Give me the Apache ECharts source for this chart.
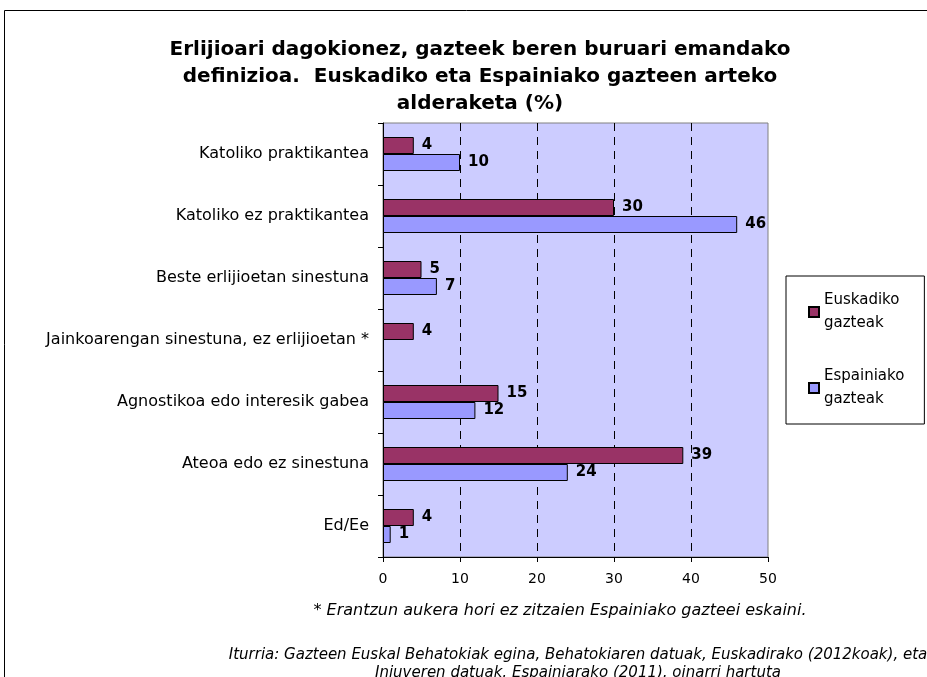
<!DOCTYPE html>
<html>
<head>
<meta charset="utf-8">
<script src="https://cdn.jsdelivr.net/npm/echarts@6/dist/echarts.min.js"></script>
<style>
  html, body { margin: 0; padding: 0; background: #fff; }
  #chart { width: 927px; height: 677px; }
</style>
</head>
<body>
<div id="chart"></div>
<script>
// categories, top to bottom
const categories = [
    'Katoliko praktikantea',
    'Katoliko ez praktikantea',
    'Beste erlijioetan sinestuna',
    'Jainkoarengan sinestuna, ez erlijioetan *',
    'Agnostikoa edo interesik gabea',
    'Ateoa edo ez sinestuna',
    'Ed/Ee'
];
const euskadiko = [4, 30, 5, 4, 15, 39, 4];
const espainiako = [10, 46, 7, null, 12, 24, 1];
const xTicks = [0, 10, 20, 30, 40, 50];

const fontFam = '"DejaVu Sans", Verdana, sans-serif';

const chart = echarts.init(document.getElementById('chart'));

const labelStyle = {
    show: true,
    position: 'right',
    distance: 8,
    color: '#000',
    fontWeight: 'bold',
    fontSize: 15,
    fontFamily: fontFam
};

let option = {
    backgroundColor: '#fff',
    animation: false,
    title: {
        text: 'Erlijioari dagokionez, gazteek beren buruari emandako\ndefinizioa.  Euskadiko eta Espainiako gazteen arteko\nalderaketa (%)',
        left: 475,
        top: 31,
        textAlign: 'center',
        textStyle: {
            fontFamily: fontFam,
            fontWeight: 'bold',
            fontSize: 20,
            lineHeight: 27,
            color: '#000'
        }
    },
    legend: {
        orient: 'vertical',
        left: 786,
        top: 276,
        width: 137,
        padding: [13, 20, 13, 22],
        itemGap: 30,
        itemWidth: 10,
        itemHeight: 10,
        borderColor: '#000',
        borderWidth: 1,
        icon: 'rect',
        formatter: name => name.replace(' ', '\n'),
        textStyle: {
            fontFamily: fontFam,
            fontSize: 15,
            lineHeight: 23,
            color: '#000'
        }
    },
    grid: {
        left: 383,
        right: 159,
        top: 123,
        bottom: 120,
        show: true,
        backgroundColor: '#CCCCFF',
        borderColor: '#808080',
        borderWidth: 1
    },
    xAxis: {
        type: 'value',
        min: 0,
        max: 50,
        interval: 10,
        axisLine: { show: true, lineStyle: { color: '#000' } },
        axisTick: { show: true, length: 5, lineStyle: { color: '#000' } },
        axisLabel: {
            color: '#000',
            fontSize: 14,
            fontFamily: fontFam,
            margin: 15,
            formatter: v => xTicks.includes(v) ? String(v) : ''
        },
        splitLine: {
            show: true,
            showMinLine: false,
            showMaxLine: false,
            lineStyle: { color: '#000', type: [8, 6], width: 1 }
        }
    },
    yAxis: {
        type: 'category',
        inverse: true,
        data: categories,
        axisLine: { show: true, lineStyle: { color: '#000' } },
        axisTick: { show: true, inside: false, length: 5, lineStyle: { color: '#000' } },
        axisLabel: {
            color: '#000',
            fontSize: 16,
            fontFamily: fontFam,
            margin: 14
        }
    },
    series: [
        {
            name: 'Euskadiko gazteak',
            type: 'bar',
            data: euskadiko,
            barWidth: 17,
            barGap: '0%',
            itemStyle: { color: '#993366', borderColor: '#000', borderWidth: 1 },
            label: labelStyle
        },
        {
            name: 'Espainiako gazteak',
            type: 'bar',
            data: espainiako,
            barWidth: 17,
            barGap: '0%',
            itemStyle: { color: '#9999FF', borderColor: '#000', borderWidth: 1 },
            label: labelStyle
        }
    ],
    graphic: [
        {
            type: 'rect',
            shape: { x: 4.5, y: 10.5, width: 940, height: 700 },
            style: { fill: null, stroke: '#000', lineWidth: 1 },
            silent: true,
            z: -1
        },
        {
            type: 'text',
            x: 560,
            y: 611,
            style: {
                text: '* Erantzun aukera hori ez zitzaien Espainiako gazteei eskaini.',
                fontFamily: fontFam,
                fontStyle: 'italic',
                fontSize: 16,
                fill: '#000',
                textAlign: 'center',
                textVerticalAlign: 'middle'
            }
        },
        {
            type: 'text',
            x: 578,
            y: 646,
            style: {
                text: 'Iturria: Gazteen Euskal Behatokiak egina, Behatokiaren datuak, Euskadirako (2012koak), eta\nInjuveren datuak, Espainiarako (2011), oinarri hartuta',
                fontFamily: fontFam,
                fontStyle: 'italic',
                fontSize: 15,
                lineHeight: 18,
                fill: '#000',
                textAlign: 'center',
                textVerticalAlign: 'top'
            }
        }
    ]
};

chart.setOption(option);
</script>
</body>
</html>
